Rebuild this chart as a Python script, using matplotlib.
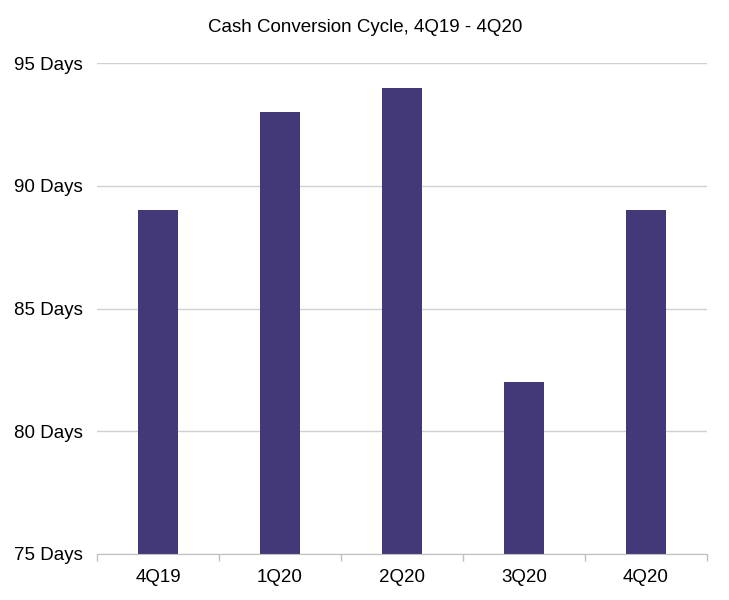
import matplotlib
matplotlib.use("Agg")
import matplotlib.pyplot as plt
from matplotlib.ticker import FixedLocator

plt.rcParams['font.family'] = ['Liberation Sans', 'DejaVu Sans']

categories = ["4Q19", "1Q20", "2Q20", "3Q20", "4Q20"]
values = [89, 93, 94, 82, 89]
yticks = [75, 80, 85, 90, 95]
ytick_labels = [f"{v} Days" for v in yticks]

fig = plt.figure(figsize=(7.29, 6.0), dpi=100)
ax = fig.add_axes([97/729, 1-554/600, (707-97)/729, (554-63)/600])

x = list(range(len(categories)))
ax.bar(x, values, width=0.33, color="#433878", zorder=3)
ax.set_xlim(-0.5, len(categories)-0.5)
ax.set_ylim(75, 95)
ax.set_yticks(yticks)
ax.set_yticklabels(ytick_labels, fontsize=13.5)
ax.set_xticks(x)
ax.set_xticklabels(categories, fontsize=13.5)
ax.tick_params(axis='x', length=0, pad=11)
ax.tick_params(axis='y', length=0, pad=10)
ax.xaxis.set_minor_locator(FixedLocator([i - 0.5 for i in range(len(categories)+1)]))
ax.tick_params(axis='x', which='minor', length=5, color="#bfbfbf", width=1)
ax.grid(axis='y', color="#d0d0d0", linewidth=1, zorder=0)
for s in ['top', 'right', 'left']:
    ax.spines[s].set_visible(False)
ax.spines['bottom'].set_color("#bfbfbf")
ax.spines['bottom'].set_zorder(4)
fig.text(365/729, 1-28/600, "Cash Conversion Cycle, 4Q19 - 4Q20", ha='center', va='center', fontsize=13.5)

fig.savefig("out.png", dpi=100)
